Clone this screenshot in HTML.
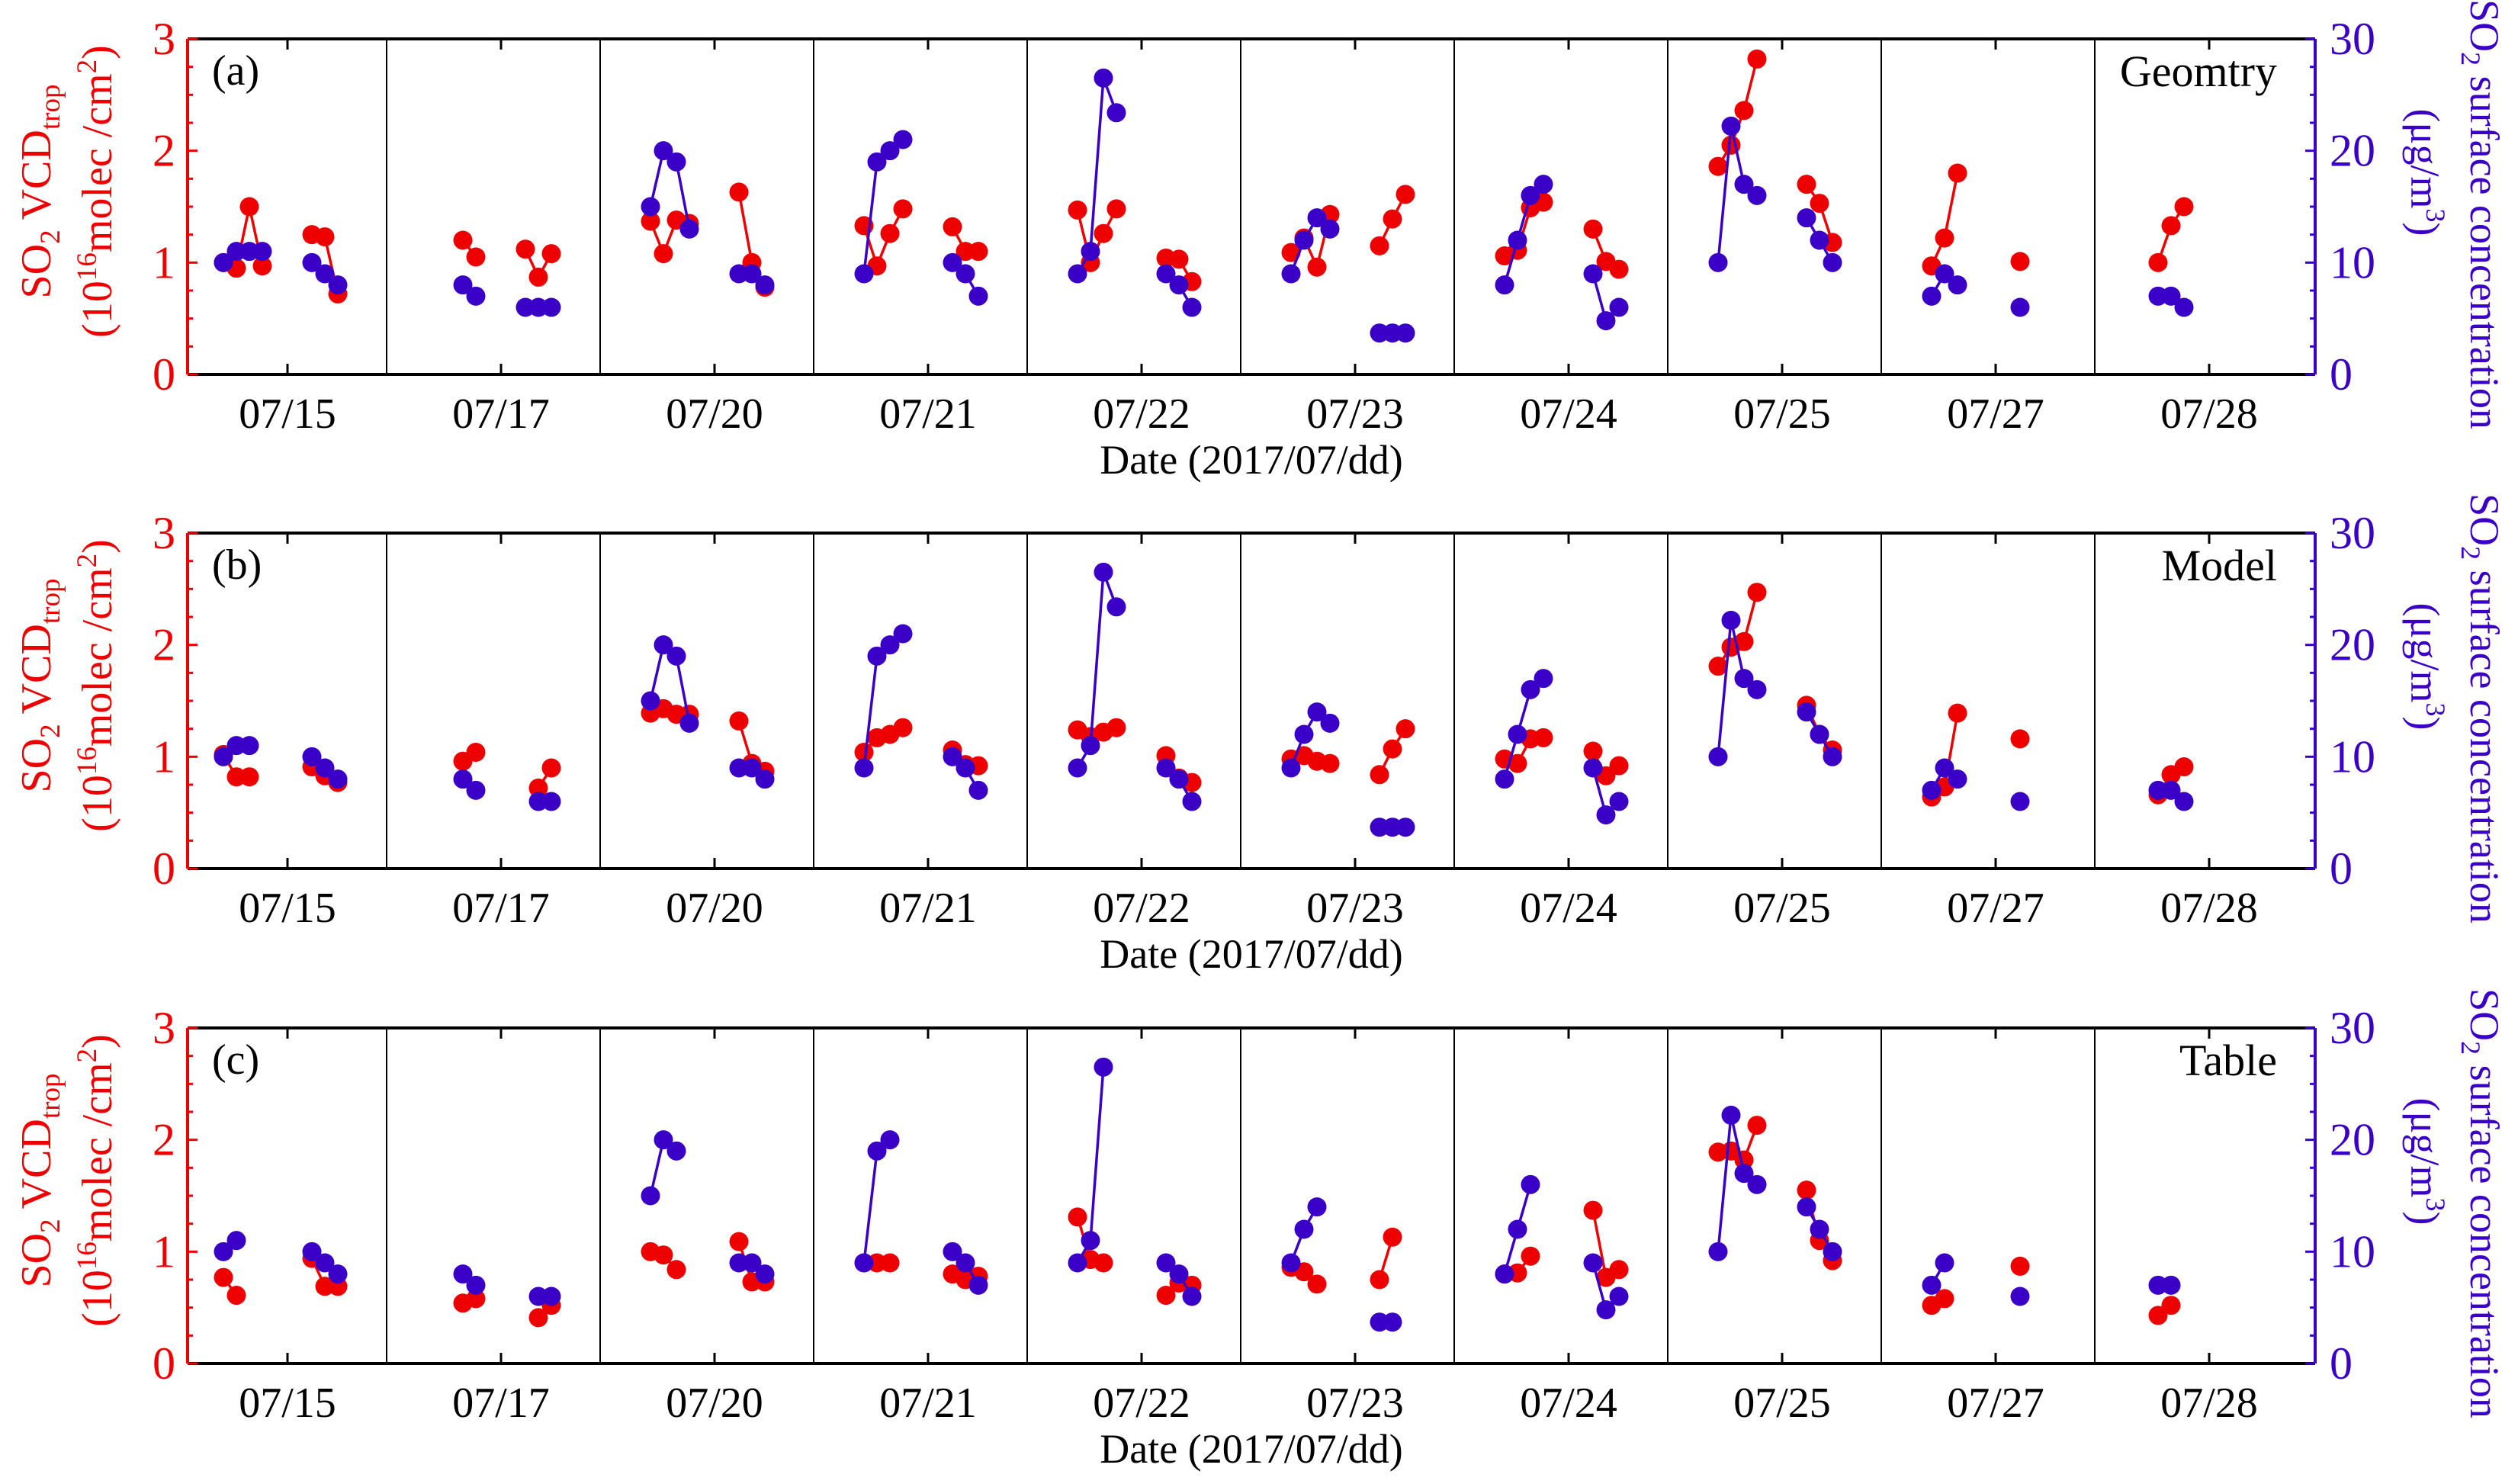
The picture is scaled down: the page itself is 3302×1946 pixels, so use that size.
<!DOCTYPE html>
<html><head><meta charset="utf-8">
<style>
html,body{margin:0;padding:0;background:#fff;}
svg{display:block;}
text{font-family:"Liberation Serif",serif;}
</style></head>
<body>
<svg id="chart" width="3302" height="1946" viewBox="0 0 3302 1946" xmlns="http://www.w3.org/2000/svg"></svg>
<script>
// ---- data ----
const dayLabels = ["07/15","07/17","07/20","07/21","07/22","07/23","07/24","07/25","07/27","07/28"];
const panelTags = ["(a)","(b)","(c)"];
const panelNames = ["Geomtry","Model","Table"];
const redTicks = [0,1,2,3];
const blueTicks = [0,10,20,30];
// [dayIndex, timeSlot, value]
const redA = [[0,0,1.0],[0,1,0.95],[0,2,1.5],[0,3,0.97],[0,4,1.25],[0,5,1.23],[0,6,0.72],
[1,2,1.2],[1,3,1.05],[1,4,1.12],[1,5,0.87],[1,6,1.08],
[2,0,1.37],[2,1,1.08],[2,2,1.38],[2,3,1.35],[2,4,1.63],[2,5,1.0],[2,6,0.78],
[3,0,1.33],[3,1,0.97],[3,2,1.26],[3,3,1.48],[3,4,1.32],[3,5,1.1],[3,6,1.1],
[4,0,1.47],[4,1,1.0],[4,2,1.26],[4,3,1.48],[4,4,1.04],[4,5,1.03],[4,6,0.83],
[5,0,1.09],[5,1,1.22],[5,2,0.96],[5,3,1.43],[5,4,1.15],[5,5,1.39],[5,6,1.61],
[6,0,1.06],[6,1,1.11],[6,2,1.49],[6,3,1.54],[6,4,1.3],[6,5,1.01],[6,6,0.94],
[7,0,1.86],[7,1,2.05],[7,2,2.36],[7,3,2.82],[7,4,1.7],[7,5,1.53],[7,6,1.18],
[8,0,0.97],[8,1,1.22],[8,2,1.8],[8,4,1.01],
[9,1,1.0],[9,2,1.33],[9,3,1.5]];
const blueA = [[0,0,10],[0,1,11],[0,2,11],[0,3,11],[0,4,10],[0,5,9],[0,6,8],
[1,2,8],[1,3,7],[1,4,6],[1,5,6],[1,6,6],
[2,0,15],[2,1,20],[2,2,19],[2,3,13],[2,4,9],[2,5,9],[2,6,8],
[3,0,9],[3,1,19],[3,2,20],[3,3,21],[3,4,10],[3,5,9],[3,6,7],
[4,0,9],[4,1,11],[4,2,26.5],[4,3,23.4],[4,4,9],[4,5,8],[4,6,6],
[5,0,9],[5,1,12],[5,2,14],[5,3,13],[5,4,3.7],[5,5,3.7],[5,6,3.7],
[6,0,8],[6,1,12],[6,2,16],[6,3,17],[6,4,9],[6,5,4.8],[6,6,6],
[7,0,10],[7,1,22.2],[7,2,17],[7,3,16],[7,4,14],[7,5,12],[7,6,10],
[8,0,7],[8,1,9],[8,2,8],[8,4,6],
[9,1,7],[9,2,7],[9,3,6]];
const redB = [[0,0,1.02],[0,1,0.82],[0,2,0.82],[0,4,0.91],[0,5,0.83],[0,6,0.77],
[1,2,0.96],[1,3,1.04],[1,5,0.72],[1,6,0.9],
[2,0,1.39],[2,1,1.43],[2,2,1.38],[2,3,1.38],[2,4,1.32],[2,5,0.94],[2,6,0.87],
[3,0,1.04],[3,1,1.17],[3,2,1.2],[3,3,1.26],[3,4,1.06],[3,5,0.93],[3,6,0.92],
[4,0,1.24],[4,1,1.18],[4,2,1.22],[4,3,1.26],[4,4,1.01],[4,5,0.81],[4,6,0.77],
[5,0,0.98],[5,1,1.01],[5,2,0.96],[5,3,0.94],[5,4,0.84],[5,5,1.07],[5,6,1.25],
[6,0,0.98],[6,1,0.94],[6,2,1.16],[6,3,1.17],[6,4,1.05],[6,5,0.83],[6,6,0.92],
[7,0,1.81],[7,1,1.98],[7,2,2.03],[7,3,2.47],[7,4,1.46],[7,5,1.2],[7,6,1.06],
[8,0,0.64],[8,1,0.73],[8,2,1.39],[8,4,1.16],
[9,1,0.66],[9,2,0.84],[9,3,0.91]];
const blueB = [[0,0,10],[0,1,11],[0,2,11],[0,4,10],[0,5,9],[0,6,8],
[1,2,8],[1,3,7],[1,5,6],[1,6,6],
[2,0,15],[2,1,20],[2,2,19],[2,3,13],[2,4,9],[2,5,9],[2,6,8],
[3,0,9],[3,1,19],[3,2,20],[3,3,21],[3,4,10],[3,5,9],[3,6,7],
[4,0,9],[4,1,11],[4,2,26.5],[4,3,23.4],[4,4,9],[4,5,8],[4,6,6],
[5,0,9],[5,1,12],[5,2,14],[5,3,13],[5,4,3.7],[5,5,3.7],[5,6,3.7],
[6,0,8],[6,1,12],[6,2,16],[6,3,17],[6,4,9],[6,5,4.8],[6,6,6],
[7,0,10],[7,1,22.2],[7,2,17],[7,3,16],[7,4,14],[7,5,12],[7,6,10],
[8,0,7],[8,1,9],[8,2,8],[8,4,6],
[9,1,7],[9,2,7],[9,3,6]];
const redC = [[0,0,0.77],[0,1,0.61],[0,4,0.94],[0,5,0.69],[0,6,0.69],
[1,2,0.54],[1,3,0.58],[1,5,0.41],[1,6,0.52],
[2,0,1.0],[2,1,0.97],[2,2,0.84],[2,4,1.09],[2,5,0.73],[2,6,0.73],
[3,0,0.9],[3,1,0.9],[3,2,0.9],[3,4,0.8],[3,5,0.75],[3,6,0.78],
[4,0,1.31],[4,1,0.93],[4,2,0.9],[4,4,0.61],[4,5,0.72],[4,6,0.7],
[5,0,0.86],[5,1,0.82],[5,2,0.71],[5,4,0.75],[5,5,1.13],
[6,0,0.8],[6,1,0.81],[6,2,0.96],[6,4,1.37],[6,5,0.77],[6,6,0.84],
[7,0,1.89],[7,1,1.9],[7,2,1.82],[7,3,2.13],[7,4,1.55],[7,5,1.1],[7,6,0.92],
[8,0,0.52],[8,1,0.58],[8,4,0.87],
[9,1,0.43],[9,2,0.52]];
const blueC = [[0,0,10],[0,1,11],[0,4,10],[0,5,9],[0,6,8],
[1,2,8],[1,3,7],[1,5,6],[1,6,6],
[2,0,15],[2,1,20],[2,2,19],[2,4,9],[2,5,9],[2,6,8],
[3,0,9],[3,1,19],[3,2,20],[3,4,10],[3,5,9],[3,6,7],
[4,0,9],[4,1,11],[4,2,26.5],[4,4,9],[4,5,8],[4,6,6],
[5,0,9],[5,1,12],[5,2,14],[5,4,3.7],[5,5,3.7],
[6,0,8],[6,1,12],[6,2,16],[6,4,9],[6,5,4.8],[6,6,6],
[7,0,10],[7,1,22.2],[7,2,17],[7,3,16],[7,4,14],[7,5,12],[7,6,10],
[8,0,7],[8,1,9],[8,4,6],
[9,1,7],[9,2,7]];
const redSeries = [redA, redB, redC];
const blueSeries = [blueA, blueB, blueC];

// ---- layout ----
const NS = "http://www.w3.org/2000/svg";
const svg = document.getElementById("chart");
const X0 = 246, X1 = 3036, H = 440;
const panelTops = [51, 699, 1348];
const RED = "#ee0000", BLUE = "#3a00c8";
function el(tag, attrs, parent){ const e=document.createElementNS(NS,tag); for(const k in attrs) e.setAttribute(k,attrs[k]); (parent||svg).appendChild(e); return e; }
function tickX(i){ return 377 + 280*i; }
function xPos(day, slot){ const off = slot<4 ? -84 + 17*slot : 32 + 17*(slot-4); return tickX(day) + off; }

panelTops.forEach((top, p) => {
  const bot = top + H;
  const yR = v => bot - v/3*H;
  const yB = v => bot - v/30*H;
  const g = el("g", {});
  
  
  for (let k=0;k<9;k++){ const sx = 507 + 280*k; const l = el("line",{x1:sx,y1:top,x2:sx,y2:bot,stroke:"#000","stroke-width":2},g);   }
  el("line",{x1:X0,y1:top,x2:X1,y2:top,stroke:"#000","stroke-width":4},g);
  const xa = el("line",{x1:X0,y1:bot,x2:X1,y2:bot,stroke:"#000","stroke-width":4},g);
   
  dayLabels.forEach((d,i)=>{
    const tx = tickX(i);
    el("line",{x1:tx,y1:bot,x2:tx,y2:bot-14,stroke:"#000","stroke-width":3},g);
    el("line",{x1:tx,y1:top,x2:tx,y2:top+14,stroke:"#000","stroke-width":3},g);
    const t = el("text",{x:tx,y:bot+70,"font-size":56,"text-anchor":"middle",fill:"#000"},g);
    t.textContent = d;
     
  });
  const xt = el("text",{x:1641,y:bot+130,"font-size":54,"text-anchor":"middle",fill:"#000"},g);
  xt.textContent = "Date (2017/07/dd)";
   
  const la = el("line",{x1:X0,y1:top,x2:X0,y2:bot,stroke:RED,"stroke-width":4},g);
   
  for (let v=0; v<=3.001; v+=0.25){ const major = Math.abs(v-Math.round(v))<1e-6; el("line",{x1:X0,y1:yR(v),x2:X0+(major?13:7),y2:yR(v),stroke:RED,"stroke-width":3},g); }
  redTicks.forEach(v=>{ const t=el("text",{x:230,y:yR(v)+20,"font-size":60,"text-anchor":"end",fill:RED},g); t.textContent=v;   });
  const ra = el("line",{x1:X1,y1:top,x2:X1,y2:bot,stroke:BLUE,"stroke-width":4},g);
   
  for (let v=0; v<=30.01; v+=2.5){ const major = Math.abs(v/10-Math.round(v/10))<1e-6; el("line",{x1:X1,y1:yB(v),x2:X1-(major?13:7),y2:yB(v),stroke:BLUE,"stroke-width":3},g); }
  blueTicks.forEach(v=>{ const t=el("text",{x:3055,y:yB(v)+20,"font-size":60,"text-anchor":"start",fill:BLUE},g); t.textContent=v;   });
  const cy = top + H/2 - 20;
  const t1 = el("text",{transform:`translate(66,${cy}) rotate(-90)`,"font-size":56,"text-anchor":"middle",fill:RED},g);
  t1.innerHTML = 'SO<tspan font-size="37" dy="12">2</tspan><tspan dy="-12"> VCD</tspan><tspan font-size="37" dy="12">trop</tspan>';
   
  const t2 = el("text",{transform:`translate(146,${cy}) rotate(-90)`,"font-size":56,"text-anchor":"middle",fill:RED},g);
  t2.innerHTML = '(10<tspan font-size="37" dy="-20">16</tspan><tspan dy="20">molec /cm</tspan><tspan font-size="37" dy="-20">2</tspan><tspan dy="20">)</tspan>';
   
  const cy2 = top + H/2 + 10;
  const t3 = el("text",{transform:`translate(3240,${cy2}) rotate(90)`,"font-size":54,"text-anchor":"middle",fill:BLUE},g);
  t3.innerHTML = 'SO<tspan font-size="36" dy="12">2</tspan><tspan dy="-12"> surface concentration</tspan>';
   
  const t4 = el("text",{transform:`translate(3162,${top + H/2 - 45}) rotate(90)`,"font-size":54,"text-anchor":"middle",fill:BLUE},g);
  t4.innerHTML = '(μg/m<tspan font-size="36" dy="-20">3</tspan><tspan dy="20">)</tspan>';
   
  const tg = el("text",{x:278,y:top+60,"font-size":56,fill:"#000"},g); tg.textContent = panelTags[p];
   
  const nm = el("text",{x:2986,y:top+62,"font-size":58,"text-anchor":"end",fill:"#000"},g); nm.textContent = panelNames[p];
   
  function drawSeries(data, yf, color, name){
    const sg = el("g",{},g);
    
    
    for (let i=1;i<data.length;i++){
      const a=data[i-1], b=data[i];
      if (a[0]===b[0] && (a[1]<4)===(b[1]<4)){
        const ln = el("line",{x1:xPos(a[0],a[1]),y1:yf(a[2]),x2:xPos(b[0],b[1]),y2:yf(b[2]),stroke:color,"stroke-width":3.5},sg);
        
        
      }
    }
    data.forEach(d=>{
      const c = el("circle",{cx:xPos(d[0],d[1]),cy:yf(d[2]),r:12.5,fill:color},sg);
      
      
    });
  }
  drawSeries(redSeries[p], yR, RED, "so2-vcd");
  drawSeries(blueSeries[p], yB, BLUE, "so2-surface");
});
</script>
</body></html>
